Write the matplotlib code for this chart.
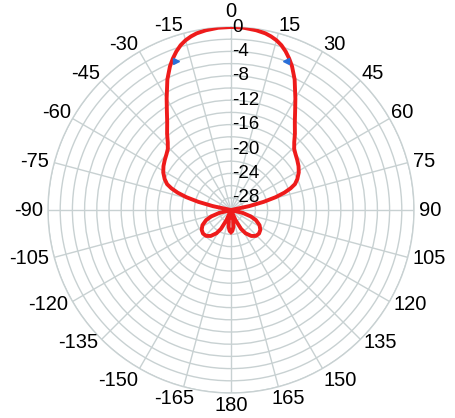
import numpy as np
import matplotlib.pyplot as plt

plt.rcParams['font.family'] = ['Liberation Sans', 'DejaVu Sans']

# half pattern (0..180 deg), symmetric about boresight
half_angles = [0, 4, 8, 11, 13, 15, 17, 19, 21, 23, 26, 30, 33, 36, 40, 43, 46, 49, 53,
               57, 61, 65, 68, 70, 72, 74, 76, 78, 80, 90, 100, 104, 108, 112, 118, 124,
               130, 136, 142, 148, 152, 156, 159, 165, 168, 172, 176, 180]
half_gain = [0.0, -0.05, -0.25, -0.5, -0.8, -1.2, -1.75, -2.5, -3.4, -4.4, -6.2, -8.9,
             -10.7, -12.2, -13.7, -14.8, -15.6, -16.0, -16.4, -16.8, -17.3, -18.0,
             -18.7, -19.6, -20.8, -22.4, -24.5, -27.0, -30.0, -30.0, -30.0, -28.0,
             -26.6, -25.6, -24.7, -24.2, -24.0, -24.1, -24.6, -25.5, -26.5, -28.2,
             -30.0, -30.0, -28.3, -27.2, -26.6, -26.4]

# -3 dB beamwidth markers
marker_angles = [20.4, -20.4]
marker_gain = [-4.0, -4.0]

ring_values = list(range(-28, 1, 2))
ring_labels = [0, -4, -8, -12, -16, -20, -24, -28]
spoke_angles = list(range(0, 360, 15))
spoke_labels = ['0', '15', '30', '45', '60', '75', '90', '105', '120', '135', '150',
                '165', '180', '-165', '-150', '-135', '-120', '-105', '-90', '-75',
                '-60', '-45', '-30', '-15']

a = np.array(half_angles, dtype=float)
g = np.array(half_gain)
angles = np.concatenate([-a[::-1], a[1:]])
gain = np.concatenate([g[::-1], g[1:]])

grid_col = '#c8d1d2'

fig = plt.figure(figsize=(4.55, 4.18), dpi=100)
ax = fig.add_axes([0.1055, 0.0598, 0.8044, 0.8756], projection='polar')
ax.set_theta_zero_location('N')
ax.set_theta_direction(-1)
ax.set_rlim(-30, 0)
ax.set_rgrids(ring_values, labels=[''] * len(ring_values))
ax.set_thetagrids(spoke_angles, labels=[''] * len(spoke_angles))
ax.grid(True, color=grid_col, linewidth=1.0)
ax.spines['polar'].set_color(grid_col)
ax.spines['polar'].set_linewidth(1.0)
ax.tick_params(length=0)

ax.plot(np.radians(angles), gain, color='#ee1b1b', linewidth=2.8, zorder=3,
        solid_joinstyle='round')
ax.plot(np.radians(marker_angles[0]), marker_gain[0], marker='<', color='#2a6fd8',
        markersize=5, linestyle='none', zorder=4)
ax.plot(np.radians(marker_angles[1]), marker_gain[1], marker='>', color='#2a6fd8',
        markersize=5, linestyle='none', zorder=4)

# radial labels along the top spoke
for r in ring_labels:
    ax.annotate(str(r), xy=(0, r), xytext=(1, 0), textcoords='offset pixels',
                ha='left', va='center', fontsize=13.5, zorder=5, annotation_clip=False)

# angle labels around the rim
for ang, lab in zip(spoke_angles, spoke_labels):
    t = np.radians(ang)
    s, c = np.sin(t), np.cos(t)
    dx_extra = 0
    if abs(s) < 0.2:
        ha = 'center'
    elif c < -0.9:
        ha = 'center'
        dx_extra = 9 * np.sign(s)
    else:
        ha = 'left' if s > 0 else 'right'
    if c > 0.4:
        va = 'baseline'
        pad = 2
    elif c < -0.8:
        va = 'top'
        pad = 2.5
    else:
        va = 'center'
        pad = 5
    dx, dy = pad * s + dx_extra, pad * c
    if ang == 0:
        dy = 10
    ax.annotate(lab, xy=(t, 0), xytext=(dx, dy), textcoords='offset pixels',
                ha=ha, va=va, fontsize=14.5, annotation_clip=False)

fig.savefig('out.png', dpi=100)
